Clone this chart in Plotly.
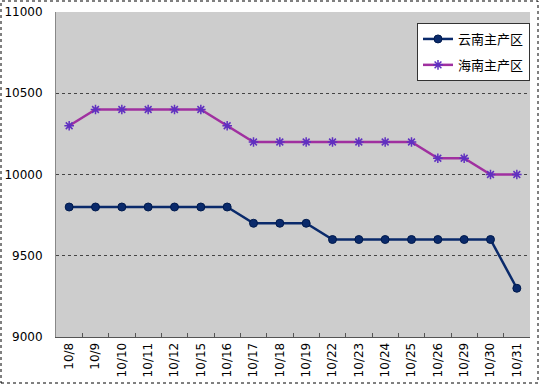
import plotly.graph_objects as go

dates = ["10/8", "10/9", "10/10", "10/11", "10/12", "10/15", "10/16", "10/17", "10/18",
         "10/19", "10/22", "10/23", "10/24", "10/25", "10/26", "10/29", "10/30", "10/31"]
yunnan = [9800, 9800, 9800, 9800, 9800, 9800, 9800, 9700, 9700,
          9700, 9600, 9600, 9600, 9600, 9600, 9600, 9600, 9300]
hainan = [10300, 10400, 10400, 10400, 10400, 10400, 10300, 10200, 10200,
          10200, 10200, 10200, 10200, 10200, 10100, 10100, 10000, 10000]
y_ticks = [9000, 9500, 10000, 10500, 11000]
y_labels = ["9000", "9500", "10000", "10500", "11000"]

W, H = 540, 385
L, R, T, B = 56, 10, 12, 48
pw, ph = W - L - R, H - T - B

fig = go.Figure()
fig.add_trace(go.Scatter(
    x=dates, y=yunnan, name="云南主产区", mode="lines+markers", legendgroup="a",
    line=dict(color="#0a2a6b", width=2.5),
    marker=dict(symbol="circle", size=8, color="#0a2a6b", line=dict(color="#001a4d", width=1)),
))
fig.add_trace(go.Scatter(
    x=dates, y=hainan, name="海南主产区", mode="lines+markers", legendgroup="b",
    line=dict(color="#a030a0", width=2.5),
    marker=dict(symbol="asterisk", size=8, color="#6030c0", line=dict(color="#6030c0", width=1.5)),
))

def px(x):
    return (x - L) / pw

def py(y):
    return 1 - (y - T) / ph

fig.add_shape(type="rect", xref="paper", yref="paper",
              x0=px(1), x1=px(W - 2), y0=py(H - 2), y1=py(1),
              line=dict(color="black", width=1, dash="dot"), layer="below")

fig.update_layout(
    width=W, height=H,
    margin=dict(l=L, r=R, t=T, b=B, autoexpand=False),
    paper_bgcolor="white",
    plot_bgcolor="#cdcdcd",
    font=dict(family="DejaVu Sans", size=12, color="black"),
    showlegend=True,
    legend=dict(
        x=px(417), y=py(23), xanchor="left", yanchor="top",
        bgcolor="white", bordercolor="#333333", borderwidth=1,
        font=dict(family="Noto Sans CJK SC", size=13),
        tracegroupgap=6,
    ),
)
fig.update_xaxes(
    type="category", tickangle=-90, showgrid=False, automargin=False,
    showline=True, linecolor="#555555", linewidth=1,
    ticks="inside", ticklen=4, tickcolor="#555555", tickson="boundaries",
    tickfont=dict(family="DejaVu Sans", size=12),
    range=[-0.5, len(dates) - 0.5],
)
fig.update_yaxes(
    range=[9000, 11000], tickvals=y_ticks, ticktext=y_labels, showgrid=True,
    automargin=False,
    gridcolor="#444444", griddash="dot", gridwidth=1,
    showline=True, linecolor="#888888", linewidth=1,
    ticks="", ticklabelstandoff=10,
    tickfont=dict(family="DejaVu Sans", size=12),
    zeroline=False,
)
fig.write_html("out.html", config={"displayModeBar": False},
               post_script="document.body.style.margin='0';document.body.style.overflow='hidden';")
